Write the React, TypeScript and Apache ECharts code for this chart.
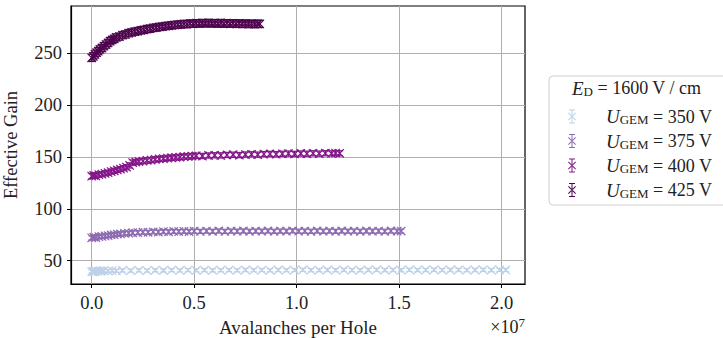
import React, { useEffect, useRef } from "react";
import * as echarts from "echarts";

// x values in units of 10^7 avalanches per hole, y = effective gain
const series350: number[][] = [
  [0, 39.6], [0.005, 39.2], [0.01, 39.8], [0.015, 39.5], [0.02, 40.1], [0.03, 39.7], [0.04, 40.2], [0.05, 39.9],
  [0.06, 40.3], [0.08, 40.0], [0.1, 40.4], [0.12, 40.2], [0.15, 40.5], [0.19, 40.3], [0.23, 40.6], [0.27, 40.4],
  [0.31, 40.7], [0.35, 40.5], [0.39, 40.8], [0.43, 40.6], [0.47, 40.9], [0.51, 40.7], [0.55, 40.9], [0.59, 40.6],
  [0.63, 40.8], [0.67, 40.9], [0.71, 40.7], [0.75, 41.0], [0.79, 40.8], [0.83, 40.9], [0.87, 40.7], [0.91, 41.0],
  [0.95, 40.8], [0.99, 40.9], [1.03, 41.1], [1.07, 40.8], [1.11, 40.9], [1.15, 41.0], [1.19, 40.8], [1.23, 41.1],
  [1.27, 40.9], [1.31, 40.8], [1.35, 41.0], [1.39, 41.1], [1.43, 40.9], [1.47, 41.0], [1.51, 40.8], [1.55, 41.1],
  [1.59, 40.9], [1.63, 41.0], [1.67, 41.2], [1.71, 40.9], [1.75, 41.0], [1.79, 41.1], [1.83, 40.9], [1.87, 41.0],
  [1.91, 41.2], [1.95, 40.9], [1.99, 41.1], [2.02, 41.0],
];
const series375: number[][] = [
  [0, 72.0], [0.01, 72.6], [0.02, 72.3], [0.035, 73.1], [0.05, 73.4], [0.065, 73.9], [0.08, 74.2], [0.095, 74.8],
  [0.11, 75.0], [0.125, 75.6], [0.14, 75.8], [0.16, 76.3], [0.18, 76.5], [0.2, 76.9], [0.225, 77.1], [0.25, 77.4],
  [0.275, 77.3], [0.3, 77.8], [0.325, 77.6], [0.35, 78.0], [0.375, 77.8], [0.4, 78.2], [0.425, 78.0], [0.45, 78.3],
  [0.475, 78.1], [0.5, 78.4], [0.53, 78.2], [0.56, 78.5], [0.59, 78.3], [0.62, 78.6], [0.65, 78.2], [0.68, 78.5],
  [0.71, 78.4], [0.74, 78.6], [0.77, 78.3], [0.8, 78.5], [0.83, 78.4], [0.86, 78.6], [0.89, 78.3], [0.92, 78.5],
  [0.95, 78.4], [0.98, 78.7], [1.01, 78.4], [1.04, 78.5], [1.07, 78.3], [1.1, 78.6], [1.13, 78.4], [1.16, 78.5],
  [1.19, 78.3], [1.22, 78.6], [1.25, 78.4], [1.28, 78.5], [1.31, 78.3], [1.34, 78.6], [1.37, 78.4], [1.4, 78.5],
  [1.43, 78.3], [1.46, 78.6], [1.49, 78.4], [1.51, 78.5],
];
const series400: number[][] = [
  [0, 131.5], [0.01, 132.2], [0.02, 131.8], [0.035, 132.9], [0.05, 133.4], [0.065, 134.2], [0.08, 134.8],
  [0.095, 135.9], [0.11, 136.6], [0.125, 137.5], [0.14, 138.3], [0.155, 139.2], [0.17, 140.1], [0.185, 141.8],
  [0.2, 144.6], [0.215, 145.1], [0.23, 145.6], [0.25, 146.0], [0.27, 146.7], [0.29, 147.0], [0.31, 147.6],
  [0.33, 148.1], [0.35, 148.4], [0.37, 148.9], [0.39, 149.2], [0.41, 149.6], [0.43, 149.8], [0.45, 150.3],
  [0.47, 150.5], [0.49, 150.8], [0.51, 151.1], [0.54, 150.9], [0.57, 151.4], [0.6, 151.6], [0.63, 151.5],
  [0.66, 151.9], [0.69, 152.1], [0.72, 151.8], [0.75, 152.3], [0.78, 152.5], [0.81, 152.2], [0.84, 152.7],
  [0.87, 152.9], [0.9, 152.6], [0.93, 153.0], [0.96, 153.2], [0.99, 152.9], [1.02, 153.3], [1.05, 153.1],
  [1.08, 153.5], [1.11, 153.2], [1.14, 153.6], [1.17, 153.4], [1.19, 153.7], [1.21, 153.5],
];
const series425: number[][] = [
  [0, 245.5], [0.008, 247.0], [0.016, 248.8], [0.024, 250.5], [0.032, 252.0], [0.04, 253.6], [0.05, 255.0],
  [0.06, 256.8], [0.07, 258.3], [0.08, 259.9], [0.09, 261.6], [0.1, 262.8], [0.11, 263.9], [0.12, 265.2],
  [0.135, 266.0], [0.15, 267.4], [0.165, 268.1], [0.18, 269.3], [0.195, 270.0], [0.21, 270.8], [0.225, 271.3],
  [0.24, 272.1], [0.255, 272.5], [0.27, 273.3], [0.285, 273.6], [0.3, 274.4], [0.315, 274.7], [0.33, 275.3],
  [0.345, 275.6], [0.36, 276.2], [0.375, 276.4], [0.39, 276.9], [0.405, 277.2], [0.42, 277.5], [0.435, 277.8],
  [0.45, 278.2], [0.465, 278.0], [0.48, 278.6], [0.495, 278.4], [0.51, 278.9], [0.525, 278.6], [0.54, 279.1],
  [0.555, 278.8], [0.57, 279.2], [0.585, 278.7], [0.6, 279.0], [0.615, 278.6], [0.63, 279.1], [0.645, 278.5],
  [0.66, 278.9], [0.675, 278.4], [0.69, 278.8], [0.705, 278.3], [0.72, 278.7], [0.735, 278.2], [0.75, 278.6],
  [0.765, 278.1], [0.78, 278.5], [0.795, 278.0], [0.81, 278.4], [0.82, 278.2],
];
// half-width of error bar in gain units for each voltage
const errors = [1.5, 2.0, 2.5, 3.5];
const voltages = ["350", "375", "400", "425"];
const colors = ["#bdd2e7", "#8c6bb1", "#85158a", "#4d044d"];
const xTicks = [0, 0.5, 1.0, 1.5, 2.0];
const yTicks = [50, 100, 150, 200, 250];

const FONT = "'Liberation Serif', 'DejaVu Serif', serif";
const ICON =
  "path://M4.5 0H5.5V14H4.5Z M2 0H8V1H2Z M2 13H8V14H2Z M1 3.7L1.7 3L9 10.3L8.3 11Z M9 3.7L8.3 3L1 10.3L1.7 11Z";

export default function App() {
  const ref = useRef<HTMLDivElement>(null);
  useEffect(() => {
    if (!ref.current) return;
    document.body.style.margin = "0";
    const chart = echarts.init(ref.current, null, { renderer: "svg" });
    const allData = [series350, series375, series400, series425];
    const names = voltages.map((v) => `U_GEM = ${v} V`);
    const series = allData.map((d, i) => ({
      type: "custom",
      name: names[i],
      data: d,
      encode: { x: 0, y: 1 },
      itemStyle: { color: colors[i] },
      z: 3 + i,
      renderItem: (params: any, api: any) => {
        const x = api.value(0);
        const y = api.value(1);
        const c = api.coord([x, y]);
        const top = api.coord([x, y + errors[i]])[1];
        const bot = api.coord([x, y - errors[i]])[1];
        const s = 4.2;
        const cap = 3.2;
        const style = { stroke: colors[i], lineWidth: 1.25, fill: null };
        return {
          type: "group",
          children: [
            { type: "line", shape: { x1: c[0] - s, y1: c[1] - s, x2: c[0] + s, y2: c[1] + s }, style },
            { type: "line", shape: { x1: c[0] - s, y1: c[1] + s, x2: c[0] + s, y2: c[1] - s }, style },
            { type: "line", shape: { x1: c[0], y1: top, x2: c[0], y2: bot }, style },
            { type: "line", shape: { x1: c[0] - cap, y1: top, x2: c[0] + cap, y2: top }, style },
            { type: "line", shape: { x1: c[0] - cap, y1: bot, x2: c[0] + cap, y2: bot }, style },
          ],
        };
      },
    }));

    const option: any = {
      animation: false,
      textStyle: { fontFamily: FONT },
      grid: {
        left: 71,
        top: 6,
        right: 198,
        bottom: 54,
        show: true,
        borderColor: "#000",
        borderWidth: 1.2,
        containLabel: false,
        outerBoundsMode: "none",
      },
      xAxis: {
        type: "value",
        min: -0.101,
        max: 2.114,
        name: "Avalanches per Hole",
        nameLocation: "middle",
        nameGap: 34,
        nameTextStyle: { fontFamily: FONT, fontSize: 19, color: "#222" },
        axisLine: { show: true, onZero: false, lineStyle: { color: "#000", width: 1.2 } },
        axisTick: { show: true, length: 4, customValues: xTicks, lineStyle: { color: "#000" } },
        axisLabel: {
          customValues: xTicks,
          margin: 9,
          fontFamily: FONT,
          fontSize: 18.5,
          color: "#222",
          formatter: (v: number) => v.toFixed(1),
        },
        splitLine: { show: true, lineStyle: { color: "#b0b0b0", width: 1 } },
      },
      yAxis: {
        type: "value",
        min: 27.5,
        max: 295.5,
        name: "Effective Gain",
        nameLocation: "middle",
        nameGap: 51,
        nameTextStyle: { fontFamily: FONT, fontSize: 18.5, color: "#222" },
        axisLine: { show: true, onZero: false, lineStyle: { color: "#000", width: 1.2 } },
        axisTick: { show: true, length: 4, customValues: yTicks, lineStyle: { color: "#000" } },
        axisLabel: { customValues: yTicks, margin: 9, fontFamily: FONT, fontSize: 18.5, color: "#222" },
        splitLine: { show: true, lineStyle: { color: "#b0b0b0", width: 1 } },
      },
      legend: {
        orient: "vertical",
        left: 568,
        top: 107,
        padding: 0,
        itemWidth: 10,
        itemHeight: 14,
        itemGap: 5.5,
        data: names.map((n) => ({ name: n, icon: ICON })),
        formatter: (n: string) => {
          const v = n.match(/(\d+)/)![1];
          return `{i|U}{sub|GEM}{n| = ${v} V}`;
        },
        textStyle: {
          fontFamily: FONT,
          fontSize: 18,
          color: "#222",
          lineHeight: 19,
          rich: {
            i: { fontFamily: FONT, fontStyle: "italic", fontSize: 19, color: "#222", padding: [0, 0, 0, 24], lineHeight: 19 },
            sub: { fontFamily: FONT, fontSize: 13, color: "#222", verticalAlign: "bottom", lineHeight: 19 },
            n: { fontFamily: FONT, fontSize: 18, color: "#222", lineHeight: 19 },
          },
        },
      },
      graphic: [
        {
          type: "rect",
          z: -1,
          shape: { x: 549, y: 76, width: 200, height: 129, r: 4 },
          style: { fill: "#fff", stroke: "#cfcfcf", lineWidth: 1 },
        },
        {
          type: "text",
          x: 572,
          y: 88,
          style: {
            text: "{i|E}{sub|D}{n| = 1600 V / cm}",
            verticalAlign: "middle",
            fontFamily: FONT,
            rich: {
              i: { fontFamily: FONT, fontStyle: "italic", fontSize: 19, fill: "#222", lineHeight: 19 },
              sub: { fontFamily: FONT, fontSize: 13, fill: "#222", verticalAlign: "bottom", lineHeight: 19 },
              n: { fontFamily: FONT, fontSize: 18, fill: "#222", lineHeight: 19 },
            },
          },
        },
        {
          type: "text",
          x: 525,
          y: 327,
          style: {
            text: "{n|×10}{sup|7}",
            align: "right",
            verticalAlign: "middle",
            fontFamily: FONT,
            rich: {
              n: { fontFamily: FONT, fontSize: 18, fill: "#222", lineHeight: 22 },
              sup: { fontFamily: FONT, fontSize: 13, fill: "#222", verticalAlign: "top", lineHeight: 22 },
            },
          },
        },
      ],
      series,
    };
    chart.setOption(option);
    return () => chart.dispose();
  }, []);
  return <div ref={ref} style={{ width: 723, height: 338 }} />;
}
